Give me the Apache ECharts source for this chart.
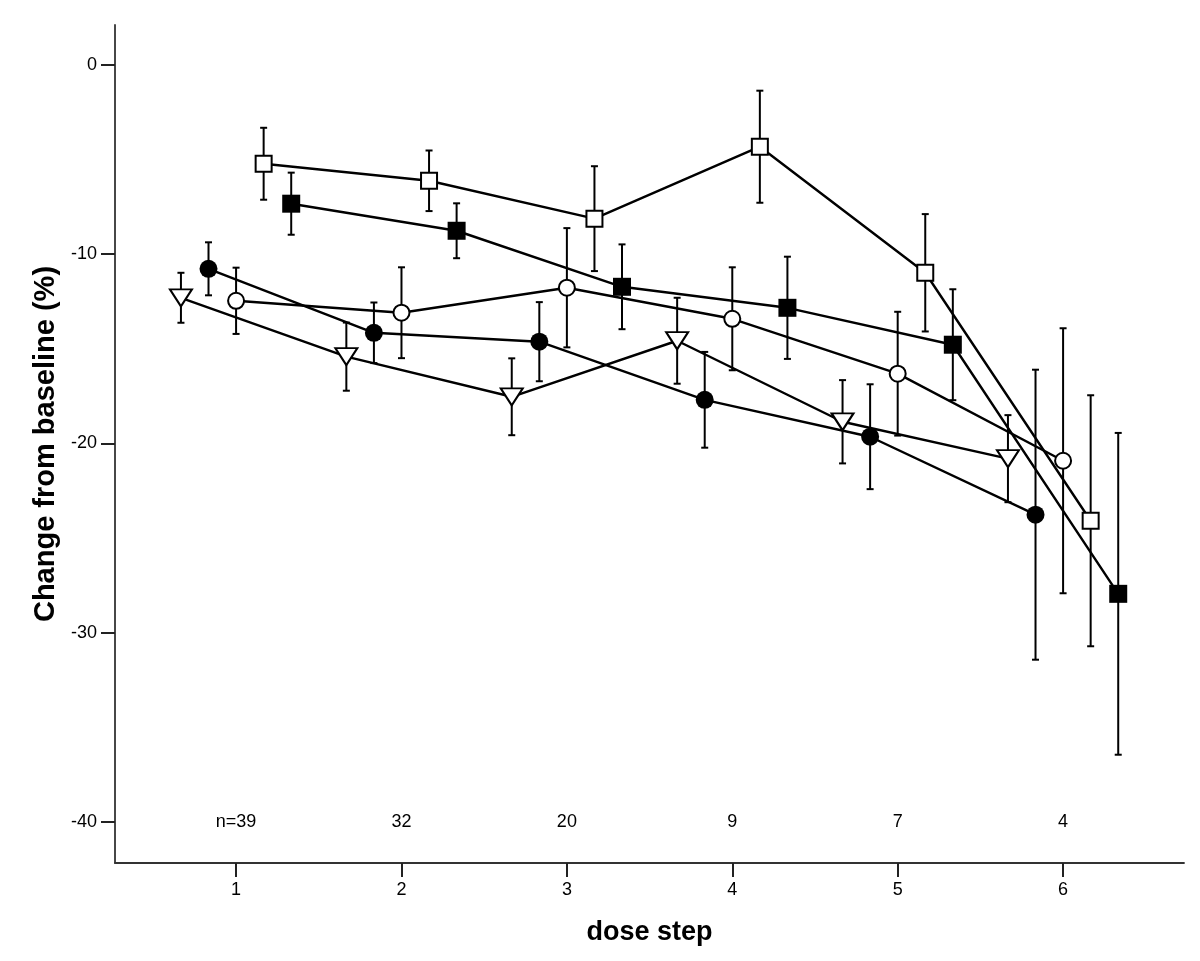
<!DOCTYPE html>
<html><head><meta charset="utf-8">
<script src="https://cdn.jsdelivr.net/npm/echarts@6/dist/echarts.min.js"></script>
<style>html,body{margin:0;padding:0;background:#fff}#c{width:1200px;height:961px}</style>
</head><body><div id="c"></div>
<script>
// ---- data ----
const doseSteps = [1, 2, 3, 4, 5, 6];
const nLabels = ['n=39', '32', '20', '9', '7', '4'];
const nLabelLevel = -40;
const yTicks = [-40, -30, -20, -10, 0];

const triangleMean = [-12.31, -15.42, -17.54, -14.58, -18.86, -20.81];
const triangleErr  = [1.32, 1.80, 2.03, 2.27, 2.20, 2.30];
const filledCircleMean = [-10.78, -14.16, -14.63, -17.70, -19.65, -23.77];
const filledCircleErr  = [1.40, 1.60, 2.09, 2.53, 2.77, 7.66];
const openCircleMean = [-12.47, -13.10, -11.78, -13.42, -16.32, -20.92];
const openCircleErr  = [1.75, 2.40, 3.15, 2.72, 3.27, 7.00];
const openSquareMean = [-5.23, -6.13, -8.13, -4.33, -10.99, -24.09];
const openSquareErr  = [1.90, 1.60, 2.77, 2.96, 3.10, 6.63];
const filledSquareMean = [-7.34, -8.77, -11.73, -12.84, -14.79, -27.95];
const filledSquareErr  = [1.64, 1.45, 2.24, 2.70, 2.93, 8.50];

// ---- series configuration (dodge offsets and marker styles) ----
const groups = [
  {name: 'triangle', mean: triangleMean, err: triangleErr, offset: -1/3, symbol: 'triangle', size: [22, 17], rotate: 180, open: true},
  {name: 'filled circle', mean: filledCircleMean, err: filledCircleErr, offset: -1/6, symbol: 'circle', size: 18, rotate: 0, open: false},
  {name: 'open circle', mean: openCircleMean, err: openCircleErr, offset: 0, symbol: 'circle', size: 16, rotate: 0, open: true},
  {name: 'open square', mean: openSquareMean, err: openSquareErr, offset: 1/6, symbol: 'rect', size: 16, rotate: 0, open: true},
  {name: 'filled square', mean: filledSquareMean, err: filledSquareErr, offset: 1/3, symbol: 'rect', size: 18, rotate: 0, open: false}
];

const FONT = 'Liberation Sans, Arial, sans-serif';

function errRender(params, api) {
  const x = api.value(0), lo = api.value(1), hi = api.value(2);
  const pLo = api.coord([x, lo]), pHi = api.coord([x, hi]);
  const cap = 3.5;
  const style = {stroke: '#000', lineWidth: 2, fill: null};
  return {type: 'group', children: [
    {type: 'line', shape: {x1: pLo[0], y1: pLo[1], x2: pHi[0], y2: pHi[1]}, style: style},
    {type: 'line', shape: {x1: pLo[0] - cap, y1: pLo[1], x2: pLo[0] + cap, y2: pLo[1]}, style: style},
    {type: 'line', shape: {x1: pHi[0] - cap, y1: pHi[1], x2: pHi[0] + cap, y2: pHi[1]}, style: style}
  ]};
}

function nRender(params, api) {
  const p = api.coord([api.value(0), api.value(1)]);
  return {type: 'text', x: p[0], y: p[1], style: {
    text: nLabels[params.dataIndex], fill: '#000', font: '18px ' + FONT,
    align: 'center', verticalAlign: 'middle'
  }};
}

const series = [];
groups.forEach(g => {
  series.push({
    type: 'custom', name: g.name + ' error', renderItem: errRender, z: 1,
    data: doseSteps.map((d, i) => [d + g.offset, g.mean[i] - g.err[i], g.mean[i] + g.err[i]]),
    encode: {x: 0, y: [1, 2]}, silent: true
  });
});
groups.forEach(g => {
  series.push({
    type: 'line', name: g.name, z: 3,
    data: doseSteps.map((d, i) => [d + g.offset, g.mean[i]]),
    symbol: g.symbol, symbolSize: g.size, symbolRotate: g.rotate, showAllSymbol: true,
    lineStyle: {color: '#000', width: 2.4},
    itemStyle: {color: g.open ? '#fff' : '#000', borderColor: '#000', borderWidth: g.open ? 2 : 0, opacity: 1},
    emphasis: {disabled: true}
  });
});
series.push({
  type: 'custom', name: 'n', z: 4, silent: true, renderItem: nRender,
  data: doseSteps.map(d => [d, nLabelLevel]), encode: {x: 0, y: 1}
});

const chart = echarts.init(document.getElementById('c'), null, {renderer: 'canvas'});
chart.setOption({
  animation: false,
  backgroundColor: '#fff',
  grid: {left: 115, right: 16, top: 25, bottom: 98},
  xAxis: {
    type: 'value', min: 0.268, max: 6.731,
    name: 'dose step', nameLocation: 'middle', nameGap: 56,
    nameTextStyle: {fontSize: 27, fontWeight: 'bold', color: '#000', fontFamily: FONT},
    axisLine: {show: true, onZero: false, lineStyle: {color: '#333', width: 1.8}},
    axisTick: {show: true, length: 14, lineStyle: {color: '#222', width: 2}, customValues: doseSteps},
    axisLabel: {customValues: doseSteps, fontSize: 18, color: '#000', margin: 18, fontFamily: FONT},
    splitLine: {show: false}
  },
  yAxis: {
    type: 'value', min: -42.17, max: 2.1,
    name: 'Change from baseline (%)', nameLocation: 'middle', nameGap: 52,
    nameTextStyle: {fontSize: 29, fontWeight: 'bold', color: '#000', fontFamily: FONT},
    axisLine: {show: true, onZero: false, lineStyle: {color: '#333', width: 1.8}},
    axisTick: {show: true, length: 14, lineStyle: {color: '#222', width: 2}, customValues: yTicks},
    axisLabel: {customValues: yTicks, fontSize: 18, color: '#000', margin: 18, fontFamily: FONT},
    splitLine: {show: false}
  },
  series: series
});
</script></body></html>
